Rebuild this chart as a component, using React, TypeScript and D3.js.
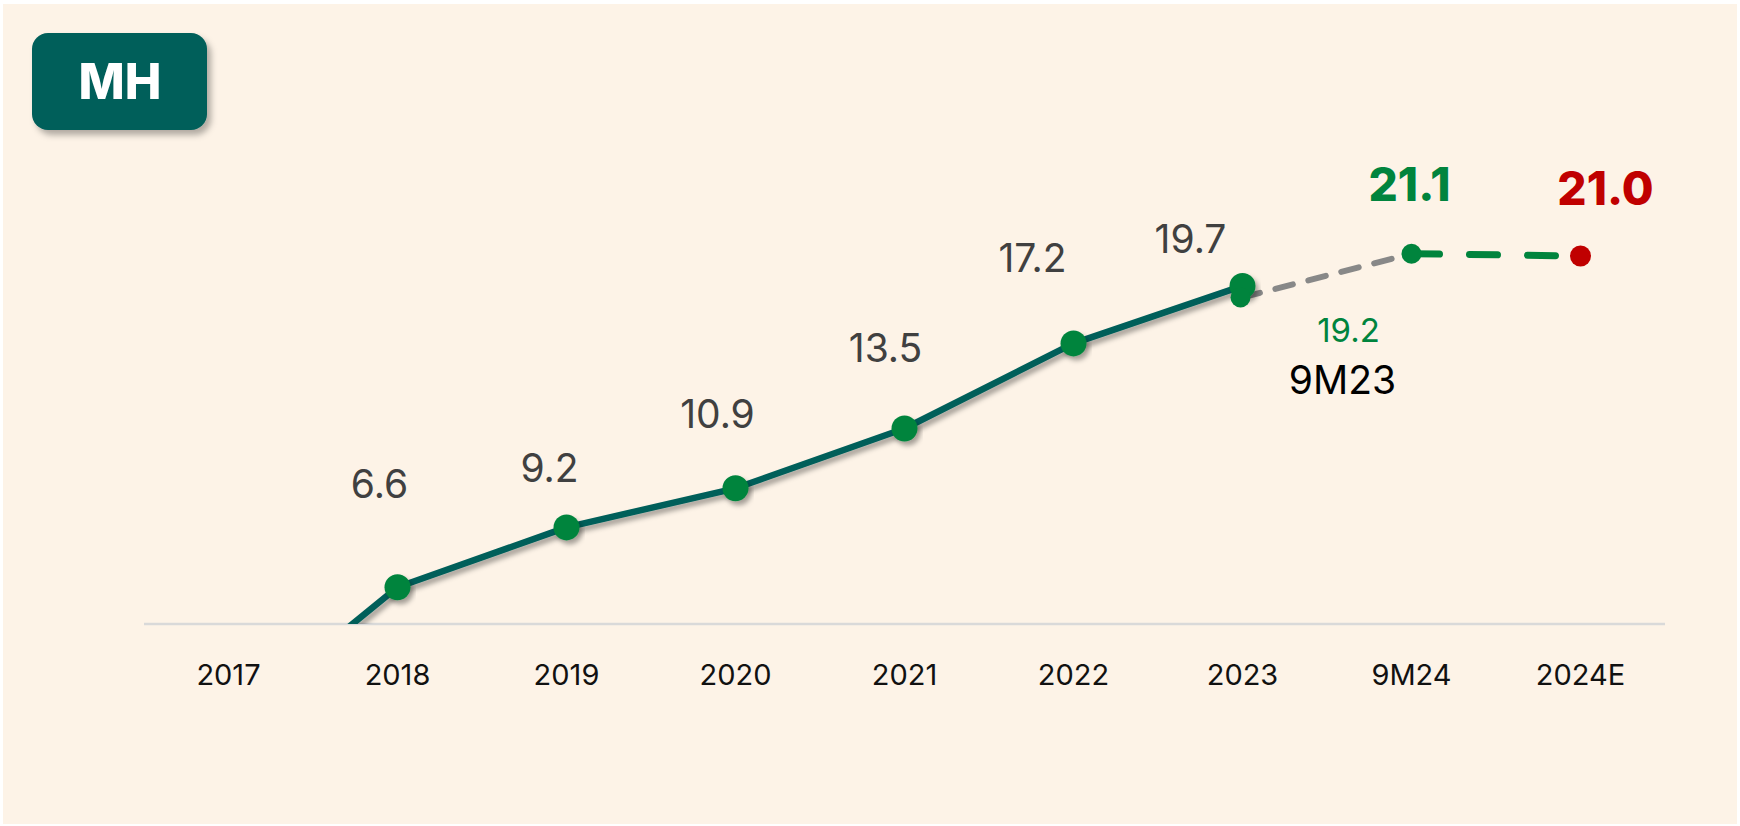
import React from "react"
import * as d3 from "d3"

const categories = ["2017", "2018", "2019", "2020", "2021", "2022", "2023", "9M24", "2024E"]

// main solid series, 2017..2023
const mainYears = ["2017", "2018", "2019", "2020", "2021", "2022", "2023"]
const mainValues = [0.6, 6.6, 9.2, 10.9, 13.5, 17.2, 19.7]
const mainLabels = ["", "6.6", "9.2", "10.9", "13.5", "17.2", "19.7"]

// 9M23 -> 9M24 comparison (gray dashed)
const nineMonthCats = ["2023", "9M24"]
const nineMonthValues = [19.2, 21.1]

// 9M24 -> 2024E estimate (green dashed)
const estimateCats = ["9M24", "2024E"]
const estimateValues = [21.1, 21.0]

const W = 1740
const H = 826
const FONT = "Inter, 'Open Sans', sans-serif"

const labelOffsets = [[0, 0], [-18, -89], [-17, -45], [-18, -60], [-19, -67], [-41, -71], [-52, -33]]

const teal = "#005F5A"
const green = "#00843D"
const red = "#C00000"

export default function App() {
  const margin = {left: 144, right: 75, top: 164, bottom: 202}
  const axisY = H - margin.bottom

  const x = d3.scaleBand().domain(categories).range([margin.left, W - margin.right])
  const cx = (c: string) => (x(c) as number) + x.bandwidth() / 2

  const y = d3.scaleLinear().domain([5, 25]).range([axisY, margin.top])

  const line = d3.line<number>()
    .x((d, i) => cx(mainYears[i]))
    .y(d => y(d))

  const nmLine = d3.line<number>().x((d, i) => cx(nineMonthCats[i])).y(d => y(d))
  const estLine = d3.line<number>().x((d, i) => cx(estimateCats[i])).y(d => y(d))

  return (
    <div style={{position: "fixed", left: 0, top: 0}}>
      <svg width={W} height={H} style={{display: "block"}}>
        <defs>
          <filter id="shadow" x="-20%" y="-20%" width="140%" height="160%">
            <feDropShadow dx="3" dy="4" stdDeviation="2.5" floodColor="#000" floodOpacity="0.35" />
          </filter>
          <filter id="badgeShadow" x="-20%" y="-20%" width="150%" height="160%">
            <feDropShadow dx="4" dy="5" stdDeviation="3" floodColor="#000" floodOpacity="0.3" />
          </filter>
          <clipPath id="plotClip">
            <rect x={0} y={0} width={W} height={axisY} />
          </clipPath>
        </defs>

        <rect x={0} y={0} width={W} height={H} fill="#fff" />
        <rect x={3} y={4} width={W - 6} height={H - 6} fill="#FDF3E7" />

        {/* badge */}
        <rect x={32} y={33} width={175} height={97} rx={16} fill={teal} filter="url(#badgeShadow)" />
        <text x={120} y={99} textAnchor="middle" fill="#fff" fontFamily={FONT} fontWeight={800} fontSize={49}>MH</text>

        {/* axis */}
        <line x1={margin.left} x2={W - margin.right} y1={axisY} y2={axisY} stroke="#D9D9D9" strokeWidth={2.5} />
        {categories.map(c => (
          <text key={c} x={cx(c)} y={685} textAnchor="middle" fontFamily={FONT} fontSize={29} fill="#111">{c}</text>
        ))}

        {/* dashed continuations */}
        <path d={nmLine(nineMonthValues) as string} fill="none" stroke="#888" strokeWidth={6}
          strokeDasharray="18 16" strokeLinecap="round" />
        <path d={estLine(estimateValues) as string} fill="none" stroke={green} strokeWidth={7}
          strokeDasharray="28 30" strokeLinecap="round" />

        {/* main line */}
        <g clipPath="url(#plotClip)">
          <path d={line(mainValues) as string} fill="none" stroke={teal} strokeWidth={6.5}
            strokeLinejoin="round" filter="url(#shadow)" />
          {mainValues.map((v, i) => y(v) < axisY ? (
            <circle key={i} cx={cx(mainYears[i])} cy={y(v)} r={13} fill={green} filter="url(#shadow)" />
          ) : null)}
        </g>

        {/* 9M23 point */}
        <circle cx={cx(nineMonthCats[0]) - 2} cy={y(nineMonthValues[0])} r={10} fill={green} />
        <circle cx={cx(nineMonthCats[1])} cy={y(nineMonthValues[1])} r={10} fill={green} />
        <circle cx={cx(estimateCats[1])} cy={y(estimateValues[1])} r={10.5} fill={red} />

        {/* value labels */}
        {mainValues.map((v, i) => mainLabels[i] ? (
          <text key={i} x={cx(mainYears[i]) + labelOffsets[i][0]} y={y(v) + labelOffsets[i][1]}
            textAnchor="middle" fontFamily={FONT} fontSize={39} fill="#404040">{mainLabels[i]}</text>
        ) : null)}

        <text x={cx("2023") + 106} y={y(nineMonthValues[0]) + 45} textAnchor="middle" fontFamily={FONT}
          fontSize={33} fill={green}>{nineMonthValues[0].toFixed(1)}</text>
        <text x={cx("2023") + 100} y={y(nineMonthValues[0]) + 97} textAnchor="middle" fontFamily={FONT}
          fontSize={39} fill="#000">9M23</text>

        <text x={cx("9M24") - 2} y={y(estimateValues[0]) - 53} textAnchor="middle" fontFamily={FONT}
          fontSize={46} fontWeight={800} fill={green}>{estimateValues[0].toFixed(1)}</text>
        <text x={cx("2024E") + 25} y={y(estimateValues[1]) - 51} textAnchor="middle" fontFamily={FONT}
          fontSize={46} fontWeight={800} fill={red}>{estimateValues[1].toFixed(1)}</text>
      </svg>
    </div>
  )
}
